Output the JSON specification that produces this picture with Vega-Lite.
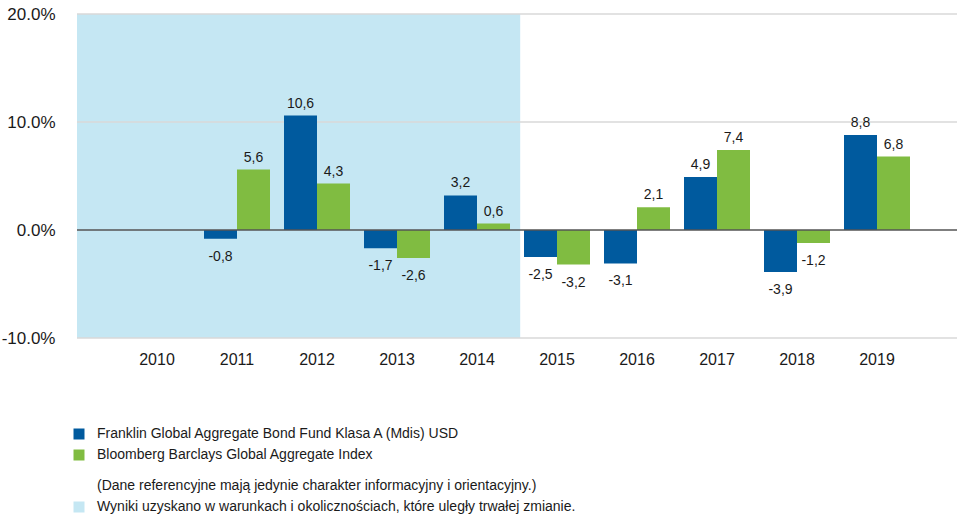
{
  "$schema": "https://vega.github.io/schema/vega-lite/v6.json",
  "autosize": {"type": "none"},
  "width": 880,
  "height": 324,
  "padding": {"left": 77, "top": 14, "right": 0, "bottom": 178},
  "config": {
    "view": {"stroke": null},
    "font": "Liberation Sans",
    "text": {"font": "Liberation Sans"}
  },
  "datasets": {
    "perf": [
      {"year": "2011", "series": "Franklin Global Aggregate Bond Fund Klasa A (Mdis) USD", "value": -0.8},
      {"year": "2011", "series": "Bloomberg Barclays Global Aggregate Index", "value": 5.6},
      {"year": "2012", "series": "Franklin Global Aggregate Bond Fund Klasa A (Mdis) USD", "value": 10.6},
      {"year": "2012", "series": "Bloomberg Barclays Global Aggregate Index", "value": 4.3},
      {"year": "2013", "series": "Franklin Global Aggregate Bond Fund Klasa A (Mdis) USD", "value": -1.7},
      {"year": "2013", "series": "Bloomberg Barclays Global Aggregate Index", "value": -2.6},
      {"year": "2014", "series": "Franklin Global Aggregate Bond Fund Klasa A (Mdis) USD", "value": 3.2},
      {"year": "2014", "series": "Bloomberg Barclays Global Aggregate Index", "value": 0.6},
      {"year": "2015", "series": "Franklin Global Aggregate Bond Fund Klasa A (Mdis) USD", "value": -2.5},
      {"year": "2015", "series": "Bloomberg Barclays Global Aggregate Index", "value": -3.2},
      {"year": "2016", "series": "Franklin Global Aggregate Bond Fund Klasa A (Mdis) USD", "value": -3.1},
      {"year": "2016", "series": "Bloomberg Barclays Global Aggregate Index", "value": 2.1},
      {"year": "2017", "series": "Franklin Global Aggregate Bond Fund Klasa A (Mdis) USD", "value": 4.9},
      {"year": "2017", "series": "Bloomberg Barclays Global Aggregate Index", "value": 7.4},
      {"year": "2018", "series": "Franklin Global Aggregate Bond Fund Klasa A (Mdis) USD", "value": -3.9},
      {"year": "2018", "series": "Bloomberg Barclays Global Aggregate Index", "value": -1.2},
      {"year": "2019", "series": "Franklin Global Aggregate Bond Fund Klasa A (Mdis) USD", "value": 8.8},
      {"year": "2019", "series": "Bloomberg Barclays Global Aggregate Index", "value": 6.8}
    ],
    "shade": [
      {"start": 0, "end": 5.54, "low": -10, "high": 20, "k": "Wyniki uzyskano w warunkach i okolicznościach, które uległy trwałej zmianie."}
    ],
    "grid": [{"g": -10}, {"g": 10}, {"g": 20}]
  },
  "layer": [
    {
      "data": {"name": "shade"},
      "mark": {"type": "rect"},
      "encoding": {
        "x": {"field": "start", "type": "quantitative", "scale": {"domain": [0, 11], "nice": false, "zero": false}, "axis": null},
        "x2": {"field": "end"},
        "y": {"field": "low", "type": "quantitative", "scale": {"domain": [-10, 20], "nice": false}, "axis": {"values": [-10, 0, 10, 20], "grid": false, "ticks": false, "domain": false, "labelPadding": 22, "labelFontSize": 17, "labelColor": "#1a1a1a", "labelExpr": "(datum.value < 0 ? '-' : '') + format(abs(datum.value), '.1f') + '%'", "title": null}},
        "y2": {"field": "high"},
        "color": {
          "field": "k", "type": "nominal",
          "scale": {"domain": ["(Dane referencyjne mają jedynie charakter informacyjny i orientacyjny.)", "Wyniki uzyskano w warunkach i okolicznościach, które uległy trwałej zmianie."], "range": ["transparent", "#c5e7f3"]},
          "legend": {"orient": "none", "legendX": -5, "legendY": 465, "title": null, "symbolType": "square", "symbolSize": 121, "symbolStrokeWidth": 0, "labelFontSize": 14, "labelColor": "#1a1a1a", "labelOffset": 11, "rowPadding": 7, "labelLimit": 800}
        }
      }
    },
    {
      "data": {"name": "grid"},
      "mark": {"type": "rule", "color": "#d9d9d9", "strokeWidth": 1.5},
      "encoding": {"y": {"field": "g", "type": "quantitative"}}
    },
    {
      "data": {"name": "perf"},
      "layer": [
        {
          "mark": {"type": "bar"},
          "encoding": {
            "x": {"field": "year", "type": "ordinal", "scale": {"domain": ["2010","2011","2012","2013","2014","2015","2016","2017","2018","2019"], "paddingInner": 0.175, "paddingOuter": 0.5875}, "axis": {"title": null, "ticks": false, "domain": false, "labelAngle": 0, "labelFontSize": 16, "labelColor": "#1a1a1a", "labelPadding": 13}},
            "xOffset": {"field": "series", "type": "nominal", "sort": ["Franklin Global Aggregate Bond Fund Klasa A (Mdis) USD", "Bloomberg Barclays Global Aggregate Index"], "scale": {"paddingInner": 0, "paddingOuter": 0}},
            "y": {"field": "value", "type": "quantitative"},
            "color": {
              "field": "series", "type": "nominal",
              "scale": {"domain": ["Franklin Global Aggregate Bond Fund Klasa A (Mdis) USD", "Bloomberg Barclays Global Aggregate Index"], "range": ["#005a9e", "#80bc41"]},
              "legend": {"orient": "none", "legendX": -5, "legendY": 413, "title": null, "symbolType": "square", "symbolSize": 121, "symbolStrokeWidth": 0, "labelFontSize": 14, "labelColor": "#1a1a1a", "labelOffset": 11, "rowPadding": 7, "labelLimit": 800}
            }
          }
        },
        {
          "transform": [{"filter": "datum.value >= 0"}, {"calculate": "replace(toString(datum.value), '.', ',')", "as": "lbl"}],
          "mark": {"type": "text", "baseline": "bottom", "dy": -5, "fontSize": 14, "color": "#1a1a1a"},
          "encoding": {
            "x": {"field": "year", "type": "ordinal"},
            "xOffset": {"field": "series", "type": "nominal", "sort": ["Franklin Global Aggregate Bond Fund Klasa A (Mdis) USD", "Bloomberg Barclays Global Aggregate Index"]},
            "y": {"field": "value", "type": "quantitative"},
            "text": {"field": "lbl"}
          }
        },
        {
          "transform": [{"filter": "datum.value < 0"}, {"calculate": "replace(toString(datum.value), '.', ',')", "as": "lbl"}],
          "mark": {"type": "text", "baseline": "top", "dy": 11, "fontSize": 14, "color": "#1a1a1a"},
          "encoding": {
            "x": {"field": "year", "type": "ordinal"},
            "xOffset": {"field": "series", "type": "nominal", "sort": ["Franklin Global Aggregate Bond Fund Klasa A (Mdis) USD", "Bloomberg Barclays Global Aggregate Index"]},
            "y": {"field": "value", "type": "quantitative"},
            "text": {"field": "lbl"}
          }
        }
      ]
    },
    {
      "data": {"values": [{"z": 0}]},
      "mark": {"type": "rule", "color": "#555555", "strokeWidth": 1.5},
      "encoding": {"y": {"field": "z", "type": "quantitative"}}
    }
  ],
  "resolve": {"scale": {"x": "independent", "color": "independent"}}
}
